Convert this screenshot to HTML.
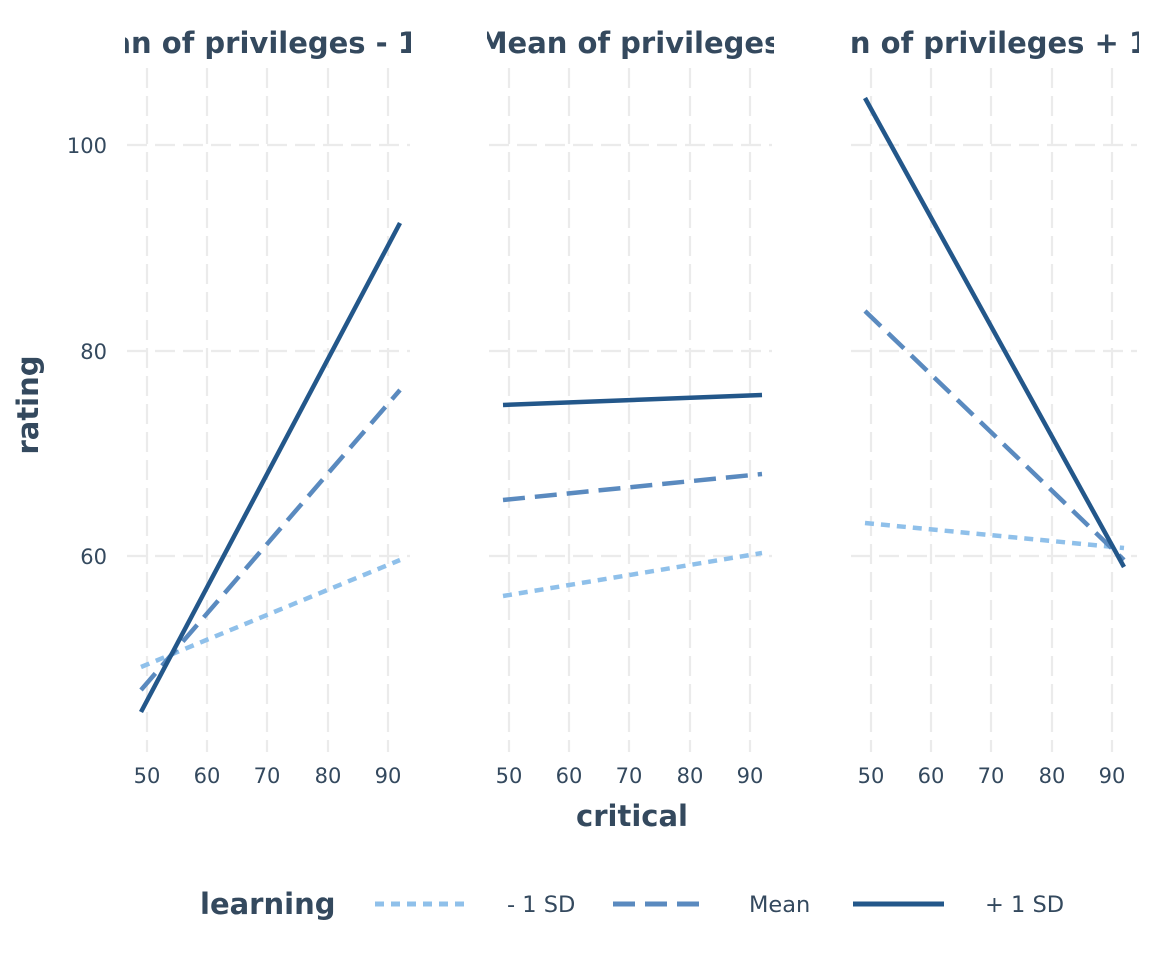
<!DOCTYPE html>
<html><head><meta charset="utf-8"><style>body{margin:0;background:#fff}svg{display:block}</style></head>
<body>
<svg width="1152" height="960" viewBox="0 0 1152 960" xmlns="http://www.w3.org/2000/svg" font-family="DejaVu Sans, sans-serif">
<defs>
<clipPath id="c1"><rect x="125" y="0" width="286" height="80"/></clipPath>
<clipPath id="c2"><rect x="487" y="0" width="287" height="80"/></clipPath>
<clipPath id="c3"><rect x="849" y="0" width="290" height="80"/></clipPath>
</defs>
<g stroke="#ebebeb" stroke-width="2.2" stroke-dasharray="20,8" fill="none">
<path d="M147 68V752M207 68V752M267 68V752M328 68V752M388 68V752"/>
<path d="M127 145H410M127 351H410M127 556H410"/>
<path d="M509 68V752M569 68V752M629 68V752M690 68V752M750 68V752"/>
<path d="M489 145H772M489 351H772M489 556H772"/>
<path d="M871 68V752M931 68V752M991 68V752M1052 68V752M1112 68V752"/>
<path d="M851 145H1137M851 351H1137M851 556H1137"/>
</g>
<g font-weight="bold" font-size="29" fill="#34495e" text-anchor="middle">
<text x="268" y="53" clip-path="url(#c1)">Mean of privileges - 1 SD</text>
<text x="630" y="53" clip-path="url(#c2)">Mean of privileges</text>
<text x="993" y="53" clip-path="url(#c3)">Mean of privileges + 1 SD</text>
</g>
<g fill="none" stroke-width="4.5">
<g stroke="#8fc0ea" stroke-dasharray="9,7">
<path d="M141 667L400 560"/><path d="M503 596L762 553"/><path d="M865 523L1124 548"/>
</g>
<g stroke="#5a8abf" stroke-dasharray="22,10">
<path d="M141 690L400 390"/><path d="M503 500L762 474"/><path d="M865 311L1124 560"/>
</g>
<g stroke="#23578a">
<path d="M141 712L400 223"/><path d="M503 405L762 395"/><path d="M865 98L1124 567"/>
</g>
</g>
<g font-size="21" fill="#34495e" text-anchor="middle">
<text x="147" y="783">50</text><text x="207" y="783">60</text><text x="267" y="783">70</text><text x="328" y="783">80</text><text x="388" y="783">90</text>
<text x="509" y="783">50</text><text x="569" y="783">60</text><text x="629" y="783">70</text><text x="690" y="783">80</text><text x="750" y="783">90</text>
<text x="871" y="783">50</text><text x="931" y="783">60</text><text x="991" y="783">70</text><text x="1052" y="783">80</text><text x="1112" y="783">90</text>
</g>
<g font-size="21" fill="#34495e" text-anchor="end">
<text x="107" y="153">100</text><text x="107" y="359">80</text><text x="107" y="564">60</text>
</g>
<text x="632" y="826" font-size="29" font-weight="bold" fill="#34495e" text-anchor="middle">critical</text>
<text transform="translate(38,405) rotate(-90)" font-size="29" font-weight="bold" fill="#34495e" text-anchor="middle">rating</text>
<text x="200" y="914" font-size="29" font-weight="bold" fill="#34495e">learning</text>
<g stroke-width="5" fill="none">
<path d="M375 904H467" stroke="#8fc0ea" stroke-dasharray="9,7"/>
<path d="M613 904H708" stroke="#5a8abf" stroke-dasharray="22,10"/>
<path d="M853 904H944" stroke="#23578a"/>
</g>
<g font-size="22.5" fill="#34495e">
<text x="507" y="912">- 1 SD</text><text x="749" y="912">Mean</text><text x="985" y="912">+ 1 SD</text>
</g>
</svg>
</body></html>
